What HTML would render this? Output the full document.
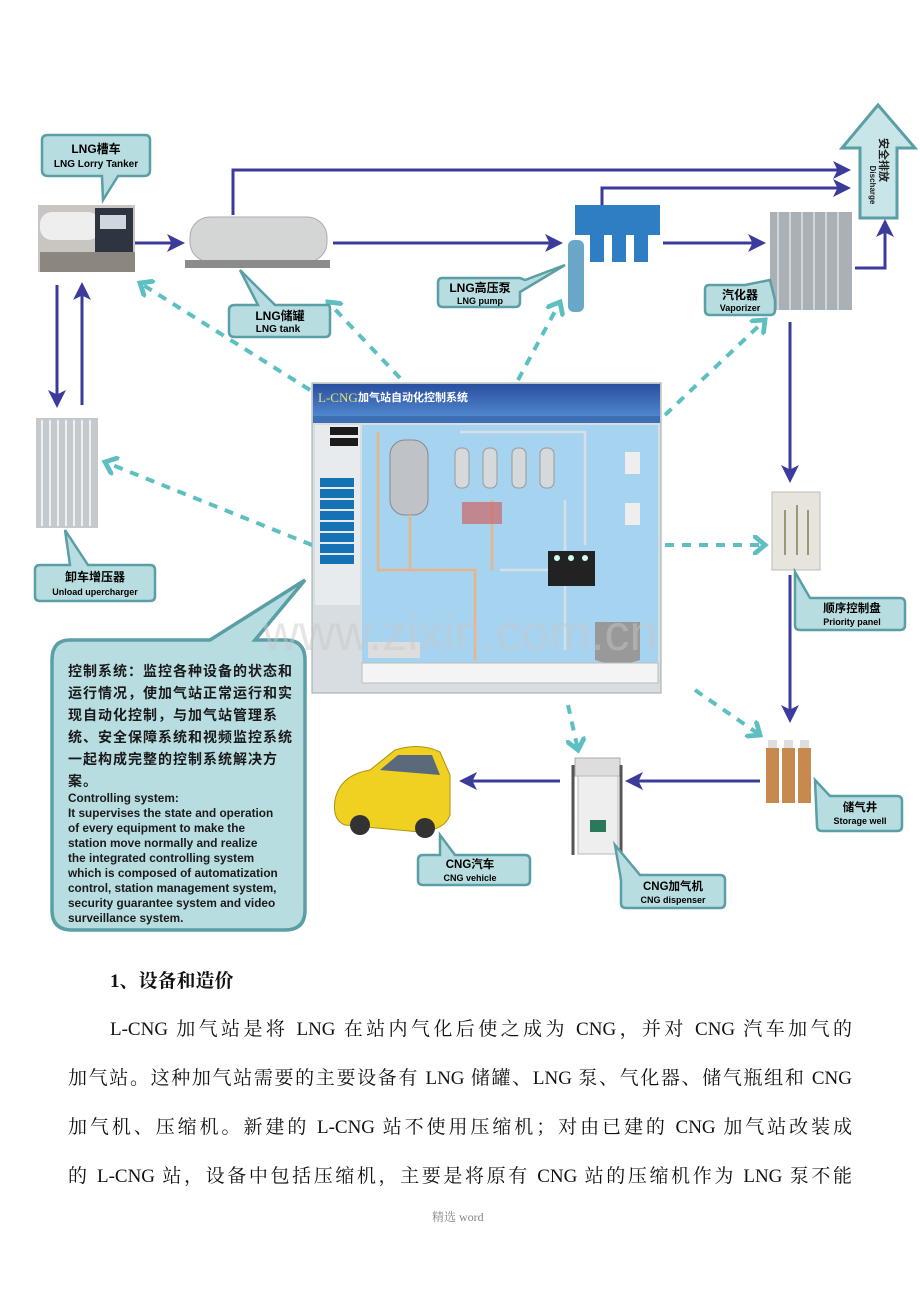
<!DOCTYPE html>
<html><head><meta charset="utf-8"><style>
html,body{margin:0;padding:0;background:#fff;}
body{width:920px;height:1302px;position:relative;overflow:hidden;font-family:"Liberation Serif","Noto Serif CJK SC",serif;}
svg{position:absolute;left:0;top:0;}
.p{position:absolute;font-size:19px;color:#111;white-space:nowrap;}
.j{text-align:justify;text-align-last:justify;white-space:normal;}
</style></head><body>
<svg width="920" height="960" viewBox="0 0 920 960" font-family="Liberation Sans, Noto Sans CJK SC, sans-serif">
<defs>
<marker id="a" markerWidth="6" markerHeight="6" refX="5" refY="3" orient="auto" markerUnits="strokeWidth"><path d="M0,0 L6,3 L0,6 L1.5,3z" fill="#3b3b9c"/></marker>
<marker id="d" markerWidth="5" markerHeight="5" refX="3" refY="2.5" orient="auto" markerUnits="strokeWidth"><path d="M0,0 L3,2.5 L0,5" fill="none" stroke="#5dbfc2" stroke-width="1.2"/></marker>
<linearGradient id="g1" x1="0" y1="0" x2="0" y2="1"><stop offset="0" stop-color="#2a4fa0"/><stop offset="1" stop-color="#4f86cc"/></linearGradient>
</defs>
<g stroke="#3b3b9c" stroke-width="3" fill="none">
<path d="M233 215 V170 H848" marker-end="url(#a)"/>
<path d="M602 210 V188 H848" marker-end="url(#a)"/>
<path d="M135 243 H182" marker-end="url(#a)"/>
<path d="M333 243 H560" marker-end="url(#a)"/>
<path d="M663 243 H763" marker-end="url(#a)"/>
<path d="M855 268 H885 V222" marker-end="url(#a)"/>
<path d="M57 285 V405" marker-end="url(#a)"/>
<path d="M82 405 V285" marker-end="url(#a)"/>
<path d="M790 322 V480" marker-end="url(#a)"/>
<path d="M790 575 V720" marker-end="url(#a)"/>
<path d="M760 781 H628" marker-end="url(#a)"/>
<path d="M560 781 H462" marker-end="url(#a)"/>
</g>
<g stroke="#5dbfc2" stroke-width="4" fill="none" stroke-dasharray="9 8">
<path d="M310 390 L140 283" marker-end="url(#d)"/>
<path d="M400 378 L328 302" marker-end="url(#d)"/>
<path d="M518 380 L560 302" marker-end="url(#d)"/>
<path d="M665 415 L765 320" marker-end="url(#d)"/>
<path d="M312 545 L105 462" marker-end="url(#d)"/>
<path d="M665 545 L765 545" marker-end="url(#d)"/>
<path d="M695 690 L760 735" marker-end="url(#d)"/>
<path d="M568 705 L578 750" marker-end="url(#d)"/>
</g>
<path d="M878 105 L915 148 L897 148 L897 218 L860 218 L860 148 L842 148 Z" fill="#c8e6e8" stroke="#5a9ea6" stroke-width="3"/>
<text x="880" y="160" font-size="11" font-weight="bold" text-anchor="middle" fill="#222" transform="rotate(90 880 160)">安全排放</text>
<text x="870" y="185" font-size="8" font-weight="bold" text-anchor="middle" fill="#222" transform="rotate(90 870 185)">Discharge</text>
<rect x="38" y="205" width="97" height="67" fill="#c9c6c2"/>
<rect x="40" y="212" width="60" height="28" rx="12" fill="#eeeeee"/>
<rect x="95" y="208" width="38" height="50" fill="#2e3440"/>
<rect x="100" y="215" width="26" height="14" fill="#cfd6de"/>
<rect x="40" y="252" width="95" height="20" fill="#8b8680"/>
<path d="M48 135 H145 Q150 135 150 140 V170 Q150 176 144 176 H118 L103 200 L102 176 H48 Q42 176 42 170 V140 Q42 135 48 135Z" fill="#b8dde0" stroke="#5a9ea6" stroke-width="2.5"/>
<text x="96" y="153" font-size="12" font-weight="bold" text-anchor="middle">LNG槽车</text>
<text x="96" y="167" font-size="10" font-weight="bold" text-anchor="middle">LNG  Lorry Tanker</text>
<rect x="190" y="217" width="137" height="45" rx="20" fill="#d4d6d6" stroke="#aab" stroke-width="1"/>
<rect x="185" y="260" width="145" height="8" fill="#8a8c8a"/>
<path d="M240 270 L275 305 L328 305 Q330 305 330 310 V332 Q330 337 325 337 H235 Q229 337 229 332 V310 Q229 305 235 305 H258 Z" fill="#b8dde0" stroke="#5a9ea6" stroke-width="2.5"/>
<text x="280" y="320" font-size="12" font-weight="bold" text-anchor="middle">LNG储罐</text>
<text x="278" y="332" font-size="10" font-weight="bold" text-anchor="middle">LNG tank</text>
<rect x="575" y="205" width="85" height="30" fill="#2f7ec4"/>
<rect x="590" y="232" width="14" height="30" fill="#2f7ec4"/><rect x="612" y="232" width="14" height="30" fill="#2f7ec4"/><rect x="634" y="232" width="14" height="30" fill="#2f7ec4"/>
<rect x="568" y="240" width="16" height="72" rx="6" fill="#6aa6c8"/>
<path d="M565 265 L525 280 L520 278 H442 Q438 278 438 283 V302 Q438 307 443 307 H515 Q520 307 520 302 V292 Z" fill="#b8dde0" stroke="#5a9ea6" stroke-width="2.5"/>
<text x="480" y="292" font-size="12" font-weight="bold" text-anchor="middle">LNG高压泵</text>
<text x="480" y="304" font-size="9" font-weight="bold" text-anchor="middle">LNG pump</text>
<rect x="770" y="212" width="82" height="98" fill="#a9b1b6"/>
<g stroke="#d0d6da" stroke-width="2"><line x1="778" y1="212" x2="778" y2="310"/><line x1="790" y1="212" x2="790" y2="310"/><line x1="802" y1="212" x2="802" y2="310"/><line x1="814" y1="212" x2="814" y2="310"/><line x1="826" y1="212" x2="826" y2="310"/><line x1="838" y1="212" x2="838" y2="310"/></g>
<path d="M770 280 L745 285 H709 Q705 285 705 290 V310 Q705 315 710 315 H770 Q775 315 775 310 V300 Z" fill="#b8dde0" stroke="#5a9ea6" stroke-width="2.5"/>
<text x="740" y="299" font-size="12" font-weight="bold" text-anchor="middle">汽化器</text>
<text x="740" y="311" font-size="9" font-weight="bold" text-anchor="middle">Vaporizer</text>
<rect x="36" y="418" width="62" height="110" fill="#c3c9cd"/>
<g stroke="#eef1f3" stroke-width="2"><line x1="42" y1="420" x2="42" y2="526"/><line x1="50" y1="420" x2="50" y2="526"/><line x1="58" y1="420" x2="58" y2="526"/><line x1="66" y1="420" x2="66" y2="526"/><line x1="74" y1="420" x2="74" y2="526"/><line x1="82" y1="420" x2="82" y2="526"/><line x1="90" y1="420" x2="90" y2="526"/></g>
<path d="M65 530 L88 565 H150 Q155 565 155 570 V596 Q155 601 150 601 H40 Q35 601 35 596 V570 Q35 565 40 565 H70 Z" fill="#b8dde0" stroke="#5a9ea6" stroke-width="2.5"/>
<text x="95" y="581" font-size="12" font-weight="bold" text-anchor="middle">卸车增压器</text>
<text x="95" y="595" font-size="9" font-weight="bold" text-anchor="middle">Unload upercharger</text>
<path d="M70 640 H210 L305 580 L255 640 H285 Q305 640 305 660 V910 Q305 930 285 930 H72 Q52 930 52 910 V660 Q52 640 70 640Z" fill="#b8dde0" stroke="#5a9ea6" stroke-width="3.5"/>
<g font-size="14" font-weight="bold" fill="#1a1a1a" letter-spacing="1">
<text x="68" y="676">控制系统：监控各种设备的状态和</text>
<text x="68" y="698">运行情况，使加气站正常运行和实</text>
<text x="68" y="720">现自动化控制，与加气站管理系</text>
<text x="68" y="742">统、安全保障系统和视频监控系统</text>
<text x="68" y="764">一起构成完整的控制系统解决方</text>
<text x="68" y="786">案。</text>
</g>
<g font-size="11.8" font-weight="bold" fill="#1a1a1a">
<text x="68" y="802">Controlling system:</text>
<text x="68" y="817">It supervises the state and operation</text>
<text x="68" y="832"> of every equipment to make the</text>
<text x="68" y="847">station move normally and realize</text>
<text x="68" y="862">the integrated controlling system</text>
<text x="68" y="877">which is composed of automatization</text>
<text x="68" y="892">control, station management system,</text>
<text x="68" y="907">security guarantee system and video</text>
<text x="68" y="922">surveillance system.</text>
</g>
<rect x="312" y="383" width="349" height="310" fill="#d8dde2" stroke="#9aa" stroke-width="1"/>
<rect x="313" y="384" width="347" height="32" fill="url(#g1)"/>
<text x="318" y="402" font-size="13" fill="#e8e070" font-family="Liberation Serif,serif">L-CNG</text>
<text x="358" y="401" font-size="11" font-weight="bold" fill="#fff">加气站自动化控制系统</text>
<rect x="313" y="416" width="347" height="7" fill="#3c6fb3"/>
<rect x="315" y="425" width="45" height="180" fill="#e8ebee"/>
<g fill="#1b1b1b"><rect x="330" y="427" width="28" height="8"/><rect x="330" y="438" width="28" height="8"/></g>
<g fill="#1572b5"><rect x="320" y="478" width="34" height="9"/><rect x="320" y="489" width="34" height="9"/><rect x="320" y="500" width="34" height="9"/><rect x="320" y="511" width="34" height="9"/><rect x="320" y="522" width="34" height="9"/><rect x="320" y="533" width="34" height="9"/><rect x="320" y="544" width="34" height="9"/><rect x="320" y="555" width="34" height="9"/></g>
<rect x="362" y="425" width="296" height="238" fill="#a6d3ef"/>
<rect x="390" y="440" width="38" height="75" rx="15" fill="#bfc3c8" stroke="#888"/>
<g fill="#d6d9dc" stroke="#999"><rect x="455" y="448" width="14" height="40" rx="6"/><rect x="483" y="448" width="14" height="40" rx="6"/><rect x="512" y="448" width="14" height="40" rx="6"/><rect x="540" y="448" width="14" height="40" rx="6"/></g>
<g fill="none" stroke="#e8b38a" stroke-width="2.5"><path d="M378 432 V570 H475 V660"/><path d="M410 570 V515"/><path d="M492 570 V500"/></g>
<g fill="none" stroke="#d7dfe6" stroke-width="2.5"><path d="M460 432 H585 V545"/><path d="M500 570 H565 V500"/><path d="M565 545 V650"/></g>
<rect x="548" y="551" width="47" height="35" fill="#222"/>
<g fill="#cfe"><circle cx="557" cy="558" r="3"/><circle cx="571" cy="558" r="3"/><circle cx="585" cy="558" r="3"/></g>
<rect x="462" y="502" width="40" height="22" fill="#c66" opacity=".7"/>
<rect x="625" y="452" width="15" height="22" fill="#eee"/><rect x="625" y="503" width="15" height="22" fill="#eee"/>
<path d="M595 622 H640 V660 Q617 668 595 660Z" fill="#999"/>
<rect x="368" y="642" width="52" height="16" fill="#ddd"/>
<rect x="362" y="663" width="296" height="20" fill="#f4f4f4" stroke="#bbb"/>
<rect x="772" y="492" width="48" height="78" fill="#e7e4dd" stroke="#bbb"/>
<g stroke="#997" stroke-width="2"><line x1="785" y1="510" x2="785" y2="555"/><line x1="797" y1="505" x2="797" y2="555"/><line x1="808" y1="510" x2="808" y2="555"/></g>
<path d="M795 572 L810 598 H900 Q905 598 905 603 V625 Q905 630 900 630 H800 Q795 630 795 625 Z" fill="#b8dde0" stroke="#5a9ea6" stroke-width="2.5"/>
<text x="852" y="612" font-size="11.5" font-weight="bold" text-anchor="middle">顺序控制盘</text>
<text x="852" y="625" font-size="9" font-weight="bold" text-anchor="middle">Priority panel</text>
<g fill="#c8894e"><rect x="766" y="748" width="13" height="55"/><rect x="782" y="748" width="13" height="55"/><rect x="798" y="748" width="13" height="55"/></g>
<g fill="#ddd"><rect x="768" y="740" width="9" height="8"/><rect x="784" y="740" width="9" height="8"/><rect x="800" y="740" width="9" height="8"/></g>
<path d="M815 780 L830 796 H897 Q902 796 902 801 V826 Q902 831 897 831 H822 Q817 831 817 826 Z" fill="#b8dde0" stroke="#5a9ea6" stroke-width="2.5"/>
<text x="860" y="811" font-size="11.5" font-weight="bold" text-anchor="middle">储气井</text>
<text x="860" y="824" font-size="9" font-weight="bold" text-anchor="middle">Storage well</text>
<rect x="575" y="758" width="45" height="18" fill="#ddd" stroke="#aaa"/>
<rect x="578" y="776" width="40" height="78" fill="#eee" stroke="#bbb"/>
<rect x="590" y="820" width="16" height="12" fill="#2a7a5a"/>
<line x1="573" y1="765" x2="573" y2="855" stroke="#555" stroke-width="3"/><line x1="621" y1="765" x2="621" y2="855" stroke="#555" stroke-width="3"/>
<path d="M615 845 L640 875 H720 Q725 875 725 880 V903 Q725 908 720 908 H626 Q621 908 621 903 V880 Z" fill="#b8dde0" stroke="#5a9ea6" stroke-width="2.5"/>
<text x="673" y="890" font-size="11.5" font-weight="bold" text-anchor="middle">CNG加气机</text>
<text x="673" y="903" font-size="9" font-weight="bold" text-anchor="middle">CNG dispenser</text>
<path d="M335 800 Q340 775 370 770 L395 750 Q420 742 440 752 L450 775 L450 815 Q445 830 420 832 L345 825 Q332 820 335 800Z" fill="#f0d020" stroke="#a8950e"/>
<path d="M380 770 L398 755 L432 755 L440 775 Z" fill="#5a6a7a"/>
<circle cx="360" cy="825" r="10" fill="#333"/><circle cx="425" cy="828" r="10" fill="#333"/>
<path d="M440 835 L455 855 H525 Q530 855 530 860 V880 Q530 885 525 885 H423 Q418 885 418 880 V860 Q418 855 423 855 H440 Z" fill="#b8dde0" stroke="#5a9ea6" stroke-width="2.5"/>
<text x="470" y="868" font-size="11.5" font-weight="bold" text-anchor="middle">CNG汽车</text>
<text x="470" y="881" font-size="9" font-weight="bold" text-anchor="middle">CNG vehicle</text>
<text x="460" y="650" font-size="50" fill="#c8c8c8" opacity=".45" text-anchor="middle" font-family="Liberation Sans,sans-serif">www.zixin.com.cn</text>
</svg>
<div class="p" style="left:110px;top:966px;font-weight:bold;">1、设备和造价</div>
<div class="p j" style="left:110px;top:1014px;width:742px;">L-CNG 加气站是将 LNG 在站内气化后使之成为 CNG，并对 CNG 汽车加气的</div>
<div class="p j" style="left:68px;top:1063px;width:784px;">加气站。这种加气站需要的主要设备有 LNG 储罐、LNG 泵、气化器、储气瓶组和 CNG</div>
<div class="p j" style="left:68px;top:1112px;width:784px;">加气机、压缩机。新建的 L-CNG 站不使用压缩机；对由已建的 CNG 加气站改装成</div>
<div class="p j" style="left:68px;top:1161px;width:784px;">的 L-CNG 站，设备中包括压缩机，主要是将原有 CNG 站的压缩机作为 LNG 泵不能</div>
<div class="p" style="left:432px;top:1208px;font-size:12px;color:#888;">精选 word</div>
</body></html>
